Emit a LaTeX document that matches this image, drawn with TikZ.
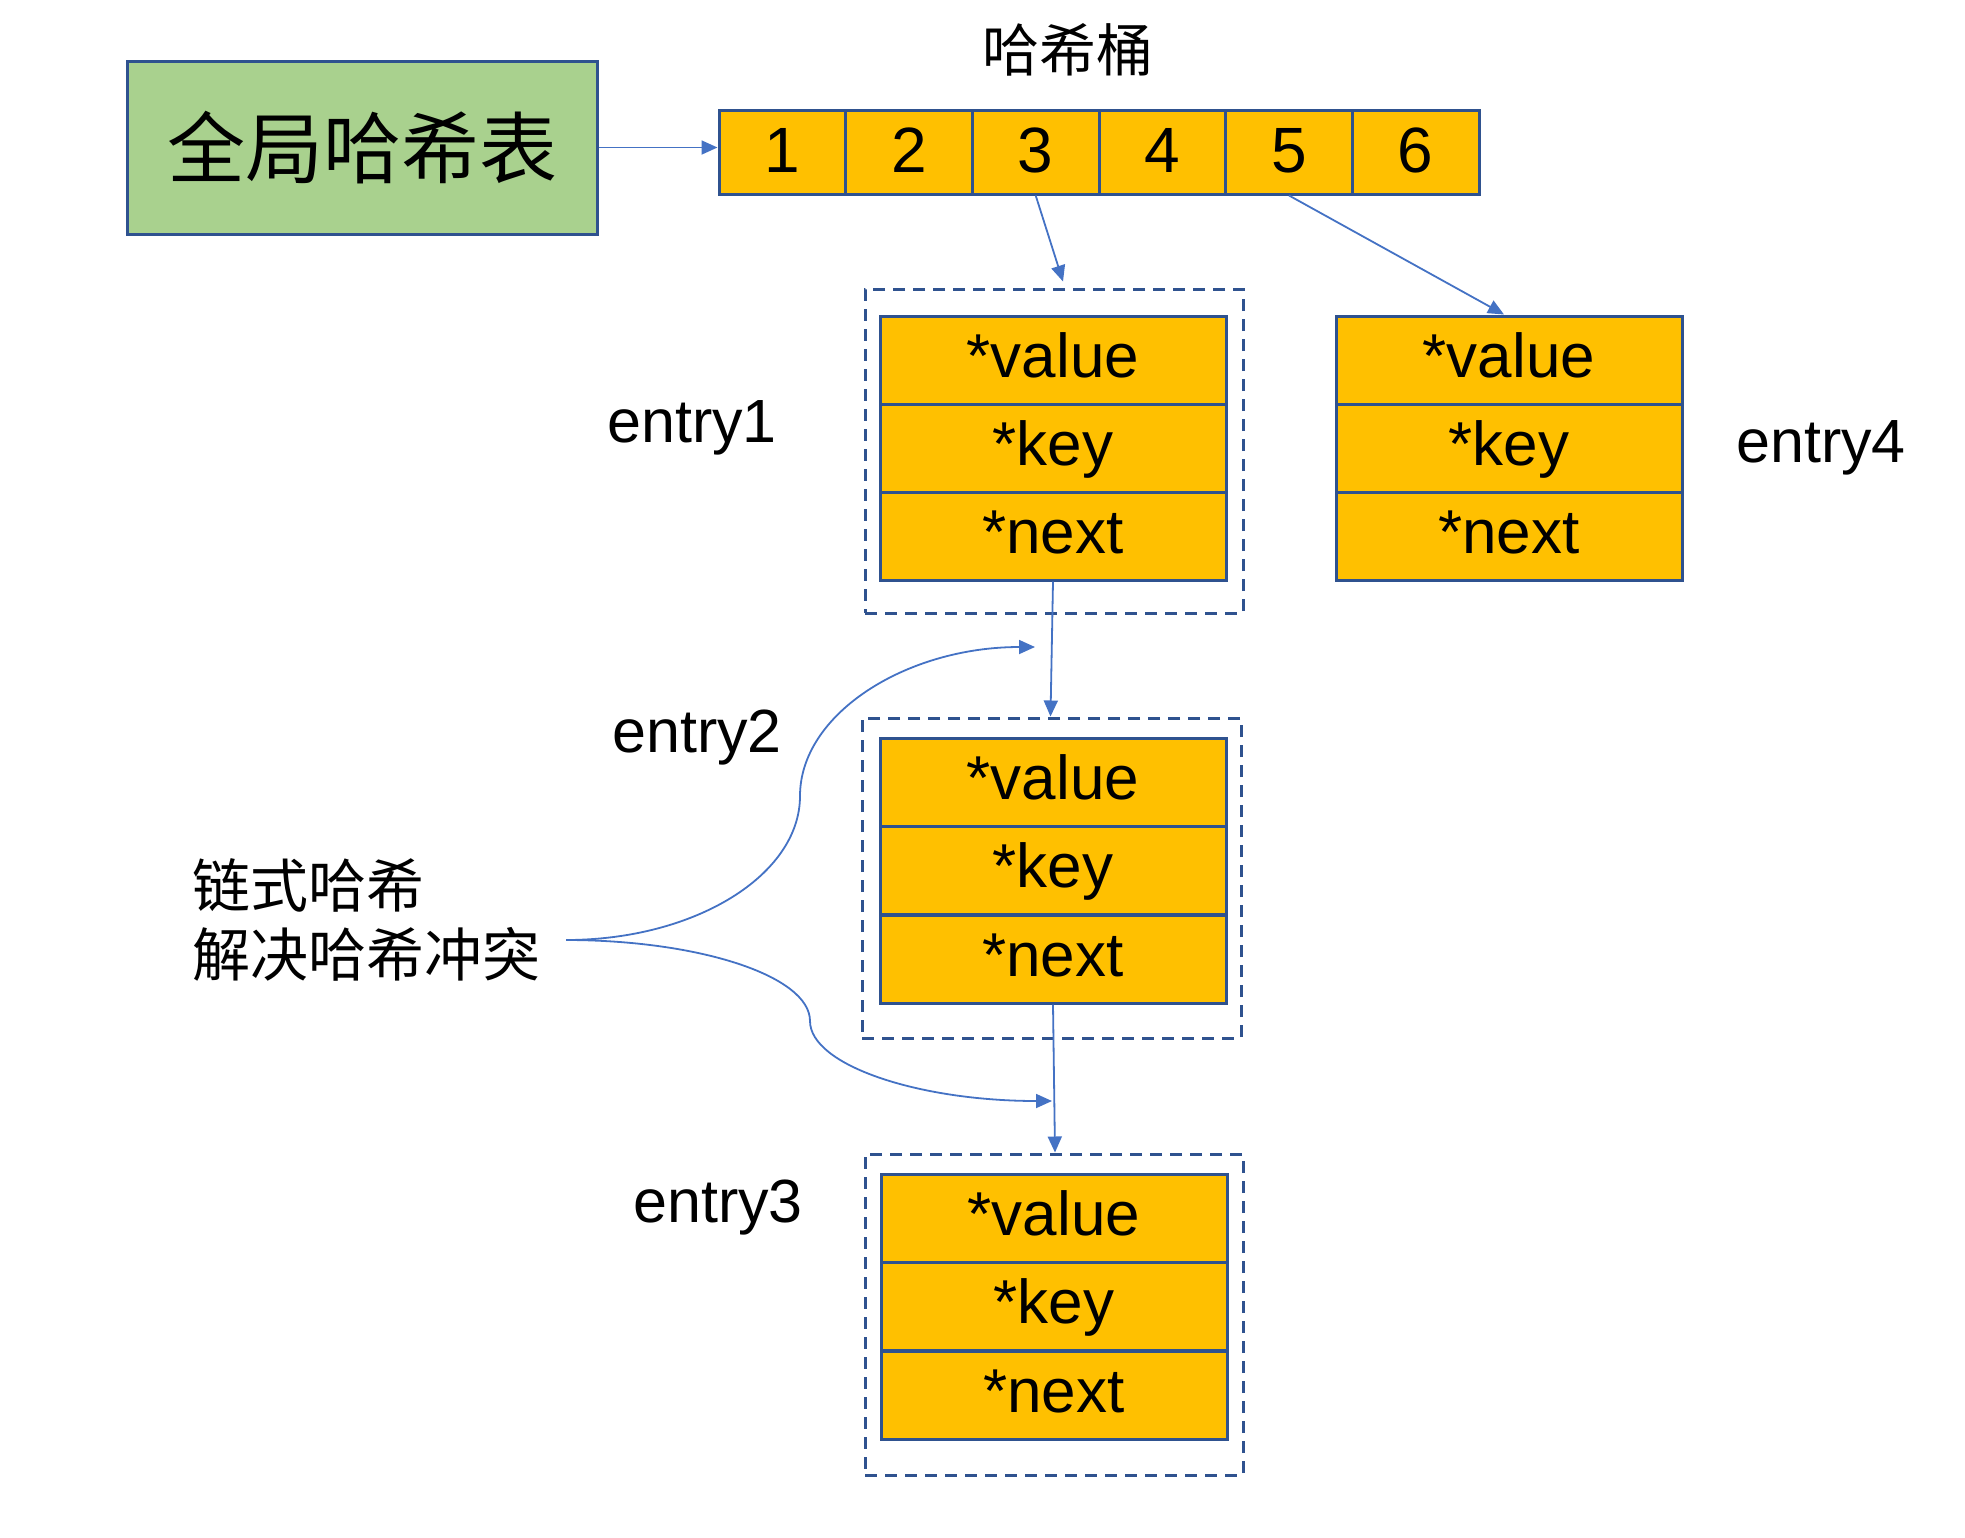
\documentclass[tikz,border=0pt]{standalone}
\usepackage{fontspec}
\setmainfont{Liberation Sans}
\newfontfamily\cjk{Noto Sans CJK SC}
\usetikzlibrary{arrows.meta}
\definecolor{cellfill}{HTML}{FFC000}
\definecolor{cellline}{HTML}{2F528F}
\definecolor{arrowc}{HTML}{4472C4}
\definecolor{greenfill}{HTML}{A9D18E}
\begin{document}
\begin{tikzpicture}[x=0.5pt,y=-0.5pt,
  cell/.style={draw=cellline,fill=cellfill,line width=1.5pt,minimum width=173pt,minimum height=44pt,inner sep=0pt,text height=23pt,text depth=6pt,font=\fontsize{31}{31}\selectfont},
  bucket/.style={draw=cellline,fill=cellfill,line width=1.5pt,minimum width=63.3pt,minimum height=42pt,inner sep=0pt,text depth=1.5pt,font=\fontsize{32}{32}\selectfont},
  dashbox/.style={draw=cellline,line width=1.5pt,dash pattern=on 6pt off 4pt,inner sep=0pt},
  conn/.style={draw=arrowc,line width=0.9pt,-{Triangle[length=8pt,width=7pt]}},
  lbl/.style={inner sep=0pt,font=\fontsize{30.5}{30.5}\selectfont}]
\useasboundingbox (0,0) rectangle (1965,1537);
% global hash table
\node[draw=cellline,fill=greenfill,line width=1.5pt,minimum width=235pt,minimum height=86.5pt,inner sep=0pt,font=\cjk\fontsize{39}{39}\selectfont] (g) at (362,147.5) {全局哈希表};
% buckets
\node[inner sep=0pt,font=\cjk\fontsize{28.5}{28.5}\selectfont] (title) at (1068,50) {哈希桶};
\foreach \i/\x in {1/782.3,2/909,3/1035.7,4/1162.3,5/1289,6/1415.7}
  \node[bucket] (b\i) at (\x,152) {\i};
% entry1
\node[dashbox,minimum width=189pt,minimum height=162pt] (d1) at (1054,451) {};
\node[cell] (e1v) at (1053,360) {*value};
\node[cell] (e1k) at (1053,448) {*key};
\node[cell] (e1n) at (1053,536) {*next};
\node[lbl] (l1) at (692,428) {entry1};
% entry4
\node[cell] (e4v) at (1509,360) {*value};
\node[cell] (e4k) at (1509,448) {*key};
\node[cell] (e4n) at (1509,536) {*next};
\node[lbl] (l4) at (1821,448) {entry4};
% entry2
\node[dashbox,minimum width=189.5pt,minimum height=160pt] (d2) at (1051.5,878) {};
\node[cell] (e2v) at (1053,782) {*value};
\node[cell] (e2k) at (1053,870) {*key};
\node[cell] (e2n) at (1053,959) {*next};
\node[lbl] (l2) at (697,738) {entry2};
% entry3
\node[dashbox,minimum width=189pt,minimum height=160.5pt] (d3) at (1054,1314.5) {};
\node[cell] (e3v) at (1054,1218) {*value};
\node[cell] (e3k) at (1054,1306) {*key};
\node[cell] (e3n) at (1054,1395) {*next};
\node[lbl] (l3) at (718,1208) {entry3};
% chain text
\node[inner sep=0pt,anchor=west,align=left,font=\cjk\fontsize{29}{34.5}\selectfont] (chain) at (192,919.5) {链式哈希\\解决哈希冲突};
% connectors
\draw[conn] (g.east) -- (g.east -| b1.west);
\draw[conn] (b3.south) -- ([xshift=4.5pt,yshift=3pt]d1.north);
\draw[conn] (b5.south) -- ([xshift=-2.5pt]e4v.north);
\draw[conn] (e1n.south) -- ([xshift=-0.5pt]d2.north);
\draw[conn] (e2n.south) -- ([xshift=0.5pt]d3.north);
\coordinate (br) at (566,940);
\coordinate (cu) at (800,796);
\coordinate (tu) at (1035,647);
\coordinate (cl) at (810,1021);
\coordinate (tl) at (1052,1101);
\draw[conn] (br) .. controls (695,940) and (800,875) .. (cu) .. controls (800,714) and (906,647) .. (tu);
\draw[conn] (br) .. controls (699,940) and (810,976) .. (cl) .. controls (810,1065) and (918,1101) .. (tl);
\end{tikzpicture}
\end{document}
